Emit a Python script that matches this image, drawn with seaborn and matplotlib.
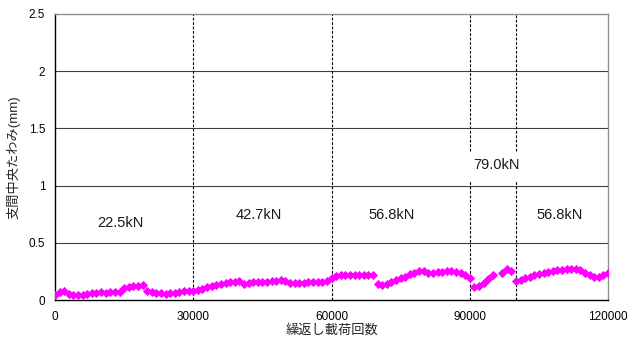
import numpy as np
import pandas as pd
import matplotlib
matplotlib.use("Agg")
import matplotlib.pyplot as plt
import seaborn as sns

# -------------------------------------------------------
# DATA (one point per 1000 cycles)
# -------------------------------------------------------

cycles = list(range(0, 121000, 1000))

deflection = [
    0.044, 0.070, 0.075, 0.055, 0.045, 0.040, 0.040, 0.050, 0.060, 0.065,   # 0-9k
    0.068, 0.065, 0.068, 0.070, 0.068, 0.105, 0.115, 0.120, 0.122, 0.130,   # 10-19k
    0.075, 0.070, 0.065, 0.058, 0.052, 0.058, 0.065, 0.072, 0.076, 0.078,   # 20-29k
    0.080, 0.090, 0.100, 0.110, 0.120, 0.130, 0.140, 0.150, 0.155, 0.160,   # 30-39k
    0.165, 0.140, 0.150, 0.155, 0.155, 0.158, 0.160, 0.165, 0.170, 0.178,   # 40-49k
    0.165, 0.145, 0.150, 0.152, 0.152, 0.155, 0.155, 0.158, 0.160, 0.165,   # 50-59k
    0.190, 0.210, 0.220, 0.215, 0.215, 0.215, 0.215, 0.215, 0.218, 0.222,   # 60-69k
    0.141, 0.135, 0.140, 0.155, 0.175, 0.190, 0.205, 0.225, 0.240, 0.255,   # 70-79k
    0.250, 0.240, 0.240, 0.245, 0.245, 0.250, 0.250, 0.245, 0.235, 0.215,   # 80-89k
    0.195, 0.115, 0.125, 0.150, 0.185, 0.215, np.nan, 0.240, 0.275, 0.255,  # 90-99k
    0.165, 0.175, 0.195, 0.205, 0.215, 0.225, 0.235, 0.245, 0.250, 0.260,   # 100-109k
    0.265, 0.270, 0.275, 0.275, 0.260, 0.235, 0.215, 0.205, 0.205, 0.220,   # 110-119k
    0.240,                                                                  # 120k
]

load_changes = [30000, 60000, 90000, 100000]

load_labels = ["22.5kN", "42.7kN", "56.8kN", "79.0kN", "56.8kN"]
label_x = [14100, 44200, 73000, 95800, 109400]
label_y = [0.67, 0.74, 0.74, 1.18, 0.74]

df = pd.DataFrame({"cycles": cycles, "deflection": deflection}).dropna()

# -------------------------------------------------------
# PLOT
# -------------------------------------------------------

sns.set_theme(style="white")
plt.rcParams["font.family"] = ["Liberation Sans", "Noto Sans CJK JP", "DejaVu Sans"]

fig = plt.figure(figsize=(6.35, 3.39), dpi=100)
ax = fig.add_axes([0.0866, 0.115, 0.871, 0.844])

for y in [0.5, 1.0, 1.5, 2.0]:
    ax.axhline(y, color="#404040", lw=0.8, zorder=1)

# load step boundaries (the two at 90k/100k are broken around the label)
dash = (0, (2.5, 1.5))
ax.vlines(load_changes[:2], 0, 2.5, colors="black", linestyles=dash, lw=0.8, zorder=2)
ax.vlines(load_changes[2:], 0, 1.04, colors="black", linestyles=dash, lw=0.8, zorder=2)
ax.vlines(load_changes[2:], 1.3, 2.5, colors="black", linestyles=dash, lw=0.8, zorder=2)

sns.scatterplot(data=df, x="cycles", y="deflection", marker="D", color="#FF00FF",
                s=22, linewidth=0, ax=ax, zorder=3)

for txt, x, y in zip(load_labels, label_x, label_y):
    ax.text(x, y, txt, ha="center", va="center", fontsize=10.5, color="#1a1a1a")

ax.set_xlim(0, 120000)
ax.set_ylim(0, 2.5)
ax.set_xticks([0, 30000, 60000, 90000, 120000])
ax.set_yticks([0, 0.5, 1, 1.5, 2, 2.5])
ax.set_yticklabels(["0", "0.5", "1", "1.5", "2", "2.5"])
ax.tick_params(axis="both", labelsize=8.5, direction="out", length=3, width=0.8,
               colors="black", pad=4)
ax.tick_params(axis="x", pad=5)

ax.set_xlabel("繰返し載荷回数", fontsize=9.5, labelpad=1)
ax.set_ylabel("支間中央たわみ(mm)", fontsize=9.5, labelpad=6)

for side in ["left", "bottom"]:
    ax.spines[side].set_color("black")
    ax.spines[side].set_linewidth(1.0)
for side in ["top", "right"]:
    ax.spines[side].set_color("#909090")
    ax.spines[side].set_linewidth(1.0)

plt.savefig("out.png", dpi=100)
